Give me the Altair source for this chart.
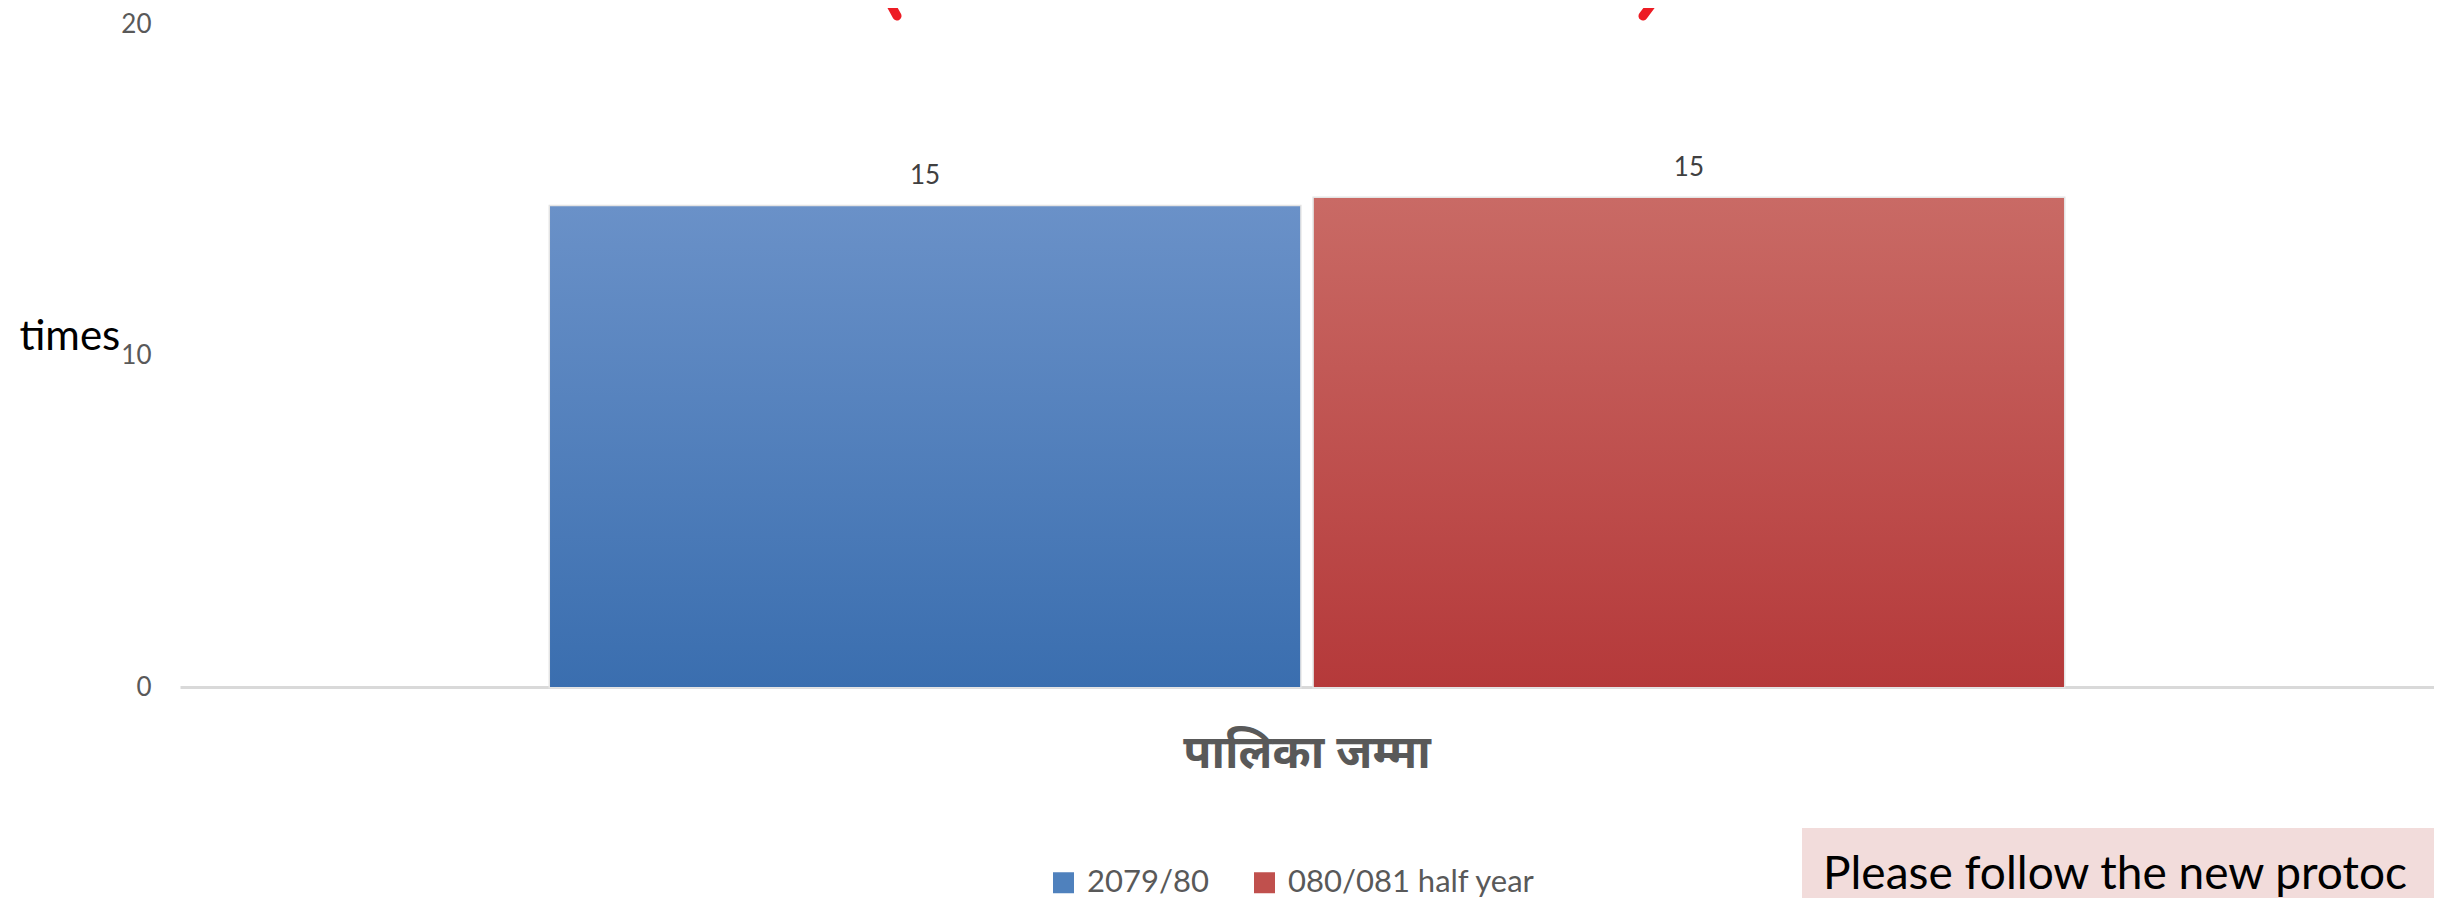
import altair as alt
import pandas as pd

# ---- data ----
categories = ["पालिका जम्मा"]
series = ["2079/80", "080/081 half year"]
values_2079_80 = [14.5]
values_080_081 = [14.75]
y_axis_title = "times"
note_text = "Please follow the new protoc"

series_colors = ["#4F81BD", "#C0504D"]
grad_blue = [("#6A91C8", 0), ("#3A6EAF", 1)]
grad_red = [("#C96A65", 0), ("#B5393A", 1)]

rows = []
for i, c in enumerate(categories):
    rows.append({"cat": c, "series": series[0], "value": values_2079_80[i]})
    rows.append({"cat": c, "series": series[1], "value": values_080_081[i]})
df = pd.DataFrame(rows)
one = pd.DataFrame({"k": [0]})

W, H = 2254, 663
FONT = "Lato"
DEV = "Noto Sans Devanagari, Noto Sans, Lato, sans-serif"

x_enc = alt.X(
    "cat:N",
    title=None,
    scale=alt.Scale(paddingInner=0, paddingOuter=0.2444),
    axis=alt.Axis(
        labelAngle=0, labelFontSize=46, labelFontWeight="bold", labelColor="#595959",
        labelFont=DEV, ticks=False, labelPadding=44, labelLimit=0,
        domainColor="#D9D9D9", domainWidth=3, grid=False,
    ),
)
y_enc = alt.Y(
    "value:Q",
    scale=alt.Scale(domain=[0, 20], nice=False),
    axis=alt.Axis(
        values=[0, 10, 20], domain=False, ticks=False, grid=False,
        labelFontSize=26, labelColor="#595959", labelFont=FONT, labelPadding=29,
        title=y_axis_title, titleAngle=0, titleFontSize=42, titleColor="#000000",
        titleFont=FONT, titleFontWeight="normal", titleAlign="left",
        titleBaseline="middle", titleX=-161, titleY=312,
    ),
)
xoff = alt.XOffset("series:N", sort=series,
                   scale=alt.Scale(domain=series, paddingInner=0.018, paddingOuter=0))

base = alt.Chart(df)

bars = base.mark_bar(stroke="#E4E4E4", strokeWidth=3).encode(
    x=x_enc, y=y_enc, xOffset=xoff,
    color=alt.Color(
        "series:N", sort=series,
        scale=alt.Scale(domain=series, range=series_colors),
        legend=alt.Legend(
            title=None, orient="none", direction="horizontal",
            legendX=868, legendY=843, symbolType="square", symbolSize=441,
            symbolStrokeWidth=0, labelFontSize=31, labelColor="#595959",
            labelFont=FONT, columnPadding=40, labelOffset=8, labelLimit=0,
            padding=0,
        ),
    ),
)

def grad_layer(name, stops):
    return base.transform_filter(alt.datum.series == name).mark_bar(
        color=alt.Gradient(
            gradient="linear", x1=0, x2=0, y1=0, y2=1,
            stops=[alt.GradientStop(color=c, offset=o) for c, o in stops],
        )
    ).encode(x=alt.X("cat:N"), y=alt.Y("value:Q"), xOffset=alt.XOffset("series:N"))

g1 = grad_layer(series[0], grad_blue)
g2 = grad_layer(series[1], grad_red)

labels = base.mark_text(dy=-30, fontSize=26, color="#404040", font=FONT, baseline="middle").encode(
    x=alt.X("cat:N"), y=alt.Y("value:Q"), xOffset=alt.XOffset("series:N"),
    text=alt.Text("value:Q", format=".0f"),
)

note_box = alt.Chart(one).mark_rect(color="#F2DCDB").encode(
    x=alt.value(1622), x2=alt.value(2300), y=alt.value(804), y2=alt.value(900)
)
note = alt.Chart(one).mark_text(
    text=note_text, align="left", baseline="alphabetic", fontSize=46,
    font=FONT, color="#000000",
).encode(x=alt.value(1643), y=alt.value(865))

arc_left = alt.Chart(one).mark_rule(color="#ED1C24", strokeWidth=9, strokeCap="round").encode(
    x=alt.value(706), x2=alt.value(717), y=alt.value(-28), y2=alt.value(-8)
)
arc_right = alt.Chart(one).mark_rule(color="#ED1C24", strokeWidth=9, strokeCap="round").encode(
    x=alt.value(1478), x2=alt.value(1463), y=alt.value(-28), y2=alt.value(-8)
)

chart = alt.layer(bars, g1, g2, labels, note_box, note, arc_left, arc_right).properties(
    width=W, height=H,
    autosize=alt.AutoSizeParams(type="none"),
    padding={"left": 172, "top": 16, "right": 0, "bottom": 211},
    background="white",
).configure_view(stroke=None)

chart.save("out.html", embed_options={"renderer": "svg", "actions": False})
